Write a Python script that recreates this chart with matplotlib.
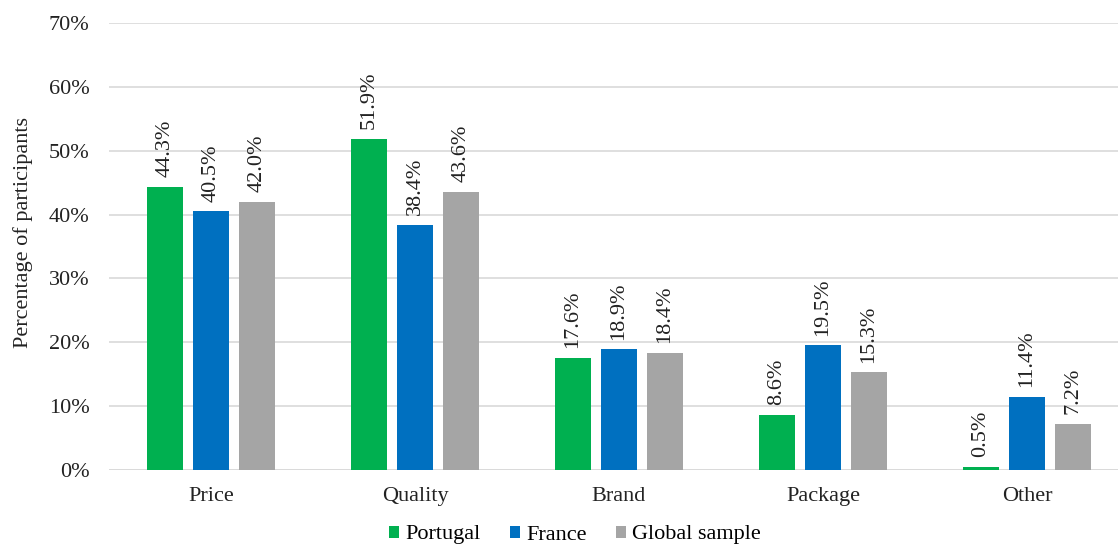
import matplotlib
matplotlib.use("Agg")
import matplotlib.pyplot as plt
import numpy as np

categories = ["Price", "Quality", "Brand", "Package", "Other"]
series_names = ["Portugal", "France", "Global sample"]
portugal = [44.3, 51.9, 17.6, 8.6, 0.5]
france = [40.5, 38.4, 18.9, 19.5, 11.4]
global_sample = [42.0, 43.6, 18.4, 15.3, 7.2]
colors = ["#00b050", "#0070c0", "#a5a5a5"]

plt.rcParams['font.family'] = ['Liberation Serif', 'DejaVu Serif']
FS = 16
TC = "#222222"

W, H = 1118, 549
fig = plt.figure(figsize=(W / 100, H / 100), dpi=100)
ax = fig.add_axes([109 / W, 1 - 470 / H, 1020 / W, 447 / H])

x = np.arange(len(categories))
width = 0.176
offsets = [-0.2255, 0, 0.2255]
for vals, off, col, name in zip([portugal, france, global_sample], offsets, colors, series_names):
    bars = ax.bar(x + off, vals, width, color=col, label=name, zorder=3)
    for b, v in zip(bars, vals):
        ax.annotate(f"{v:.1f}%", (b.get_x() + b.get_width() / 2, v),
                    xytext=(0, 7), textcoords="offset points",
                    rotation=90, ha="center", va="bottom", fontsize=FS, color=TC)

ax.set_xlim(-0.5, 4.5)
ax.set_ylim(0, 70)
ax.set_yticks(np.arange(0, 71, 10))
ax.set_yticklabels([f"{t}%" for t in range(0, 71, 10)], fontsize=FS, color=TC)
ax.set_xticks(x)
ax.set_xticklabels(categories, fontsize=FS, color=TC)
ax.yaxis.grid(True, color="#d9d9d9", linewidth=1.2, zorder=0)
for s in ["top", "right", "left", "bottom"]:
    ax.spines[s].set_visible(False)
ax.axhline(0, color="#d9d9d9", linewidth=1.2, zorder=2)
ax.tick_params(axis="both", length=0)
ax.tick_params(axis="x", pad=12)
ax.tick_params(axis="y", pad=14)
fig.text(23 / W, 1 - 233 / H, "Percentage of participants", rotation=90,
         ha="center", va="center", fontsize=FS, color=TC)

fig.legend(loc="center", bbox_to_anchor=(575 / W, 1 - 535 / H), ncol=3, frameon=False,
           fontsize=FS, handlelength=0.45, handleheight=0.45, handletextpad=0.3,
           columnspacing=1.3, borderpad=0, borderaxespad=0)

fig.savefig("out.png", dpi=100)
